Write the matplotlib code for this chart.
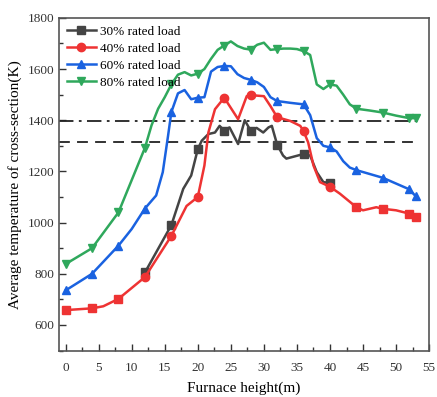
import matplotlib
matplotlib.use("Agg")
import matplotlib.pyplot as plt
from matplotlib.ticker import MultipleLocator

plt.rcParams['font.family'] = ['Liberation Serif', 'DejaVu Serif']

# furnace height (m) and average temperature (K)
x30 = [12, 16, 17.8, 19, 20, 20.6, 21.6, 22.6, 23.3, 24, 24.8, 26.1, 27.1, 28, 28.9, 29.9,
       30.7, 31.2, 32, 32.9, 33.4, 36, 37, 38, 39, 40]
y30 = [805, 990, 1132, 1184, 1287, 1320, 1346, 1352, 1378, 1359, 1372, 1307, 1400, 1359, 1370, 1352,
       1372, 1378, 1305, 1262, 1250, 1268, 1262, 1197, 1158, 1155]

x40 = [0, 4, 5.7, 8, 12, 16, 18.3, 20, 21, 21.6, 22.6, 24, 26.1, 27.4, 28, 30, 31, 32, 34, 35.5,
       36, 36.7, 37.5, 38.5, 40, 41.5, 44, 45, 47, 48, 50, 52, 53]
y40 = [658, 665, 673, 702, 787, 948, 1065, 1100, 1223, 1352, 1443, 1488, 1404, 1494, 1498, 1494, 1455, 1412, 1397, 1378,
       1358, 1313, 1223, 1158, 1140, 1113, 1060, 1048, 1060, 1054, 1048, 1035, 1022]

x60 = [0, 4, 8, 10, 12, 13.7, 14.7, 15.5, 16, 17, 18, 19, 20, 21, 22, 23, 24, 25, 26, 27, 28, 29, 30,
       31, 32, 34, 36, 37, 38, 39, 40, 41, 42, 43, 44, 48, 52, 53]
y60 = [735, 800, 910, 975, 1055, 1106, 1197, 1339, 1432, 1505, 1518, 1482, 1488, 1490, 1590, 1608, 1612, 1611, 1580, 1565, 1558, 1548, 1530,
       1490, 1475, 1468, 1462, 1420, 1330, 1300, 1294, 1278, 1240, 1215, 1205, 1175, 1130, 1102]

x80 = [0, 4, 8, 12, 13, 14, 15, 16, 17, 18, 19, 20, 21, 22, 23, 24, 25, 26, 27, 28, 29, 30, 31, 32,
       33, 34, 35, 36, 37, 38, 39, 40, 41, 42, 43, 44, 46, 48, 50, 52, 53]
y80 = [838, 900, 1040, 1292, 1380, 1445, 1490, 1540, 1578, 1588, 1575, 1582, 1600, 1640, 1675, 1692, 1708, 1690, 1680, 1676, 1695, 1703, 1675, 1678,
       1680, 1680, 1678, 1670, 1655, 1540, 1522, 1540, 1535, 1500, 1462, 1445, 1438, 1430, 1418, 1408, 1408]

marks = [0, 4, 8, 12, 16, 20, 24, 28, 32, 36, 40, 44, 48, 52, 53]
red_squares = [0, 4, 8, 44, 48, 52, 53]

line_dashdot = 1398
line_dashed = 1315


def idx(xs, keep):
    return [i for i, v in enumerate(xs) if v in keep]


fig, ax = plt.subplots(figsize=(4.37, 3.97), dpi=100)
fig.subplots_adjust(left=0.135, right=0.982, top=0.955, bottom=0.117)

ax.plot([-1, 53.5], [line_dashdot] * 2, color='#222222', ls=(0, (8, 3, 1.5, 3)), lw=1.3)
ax.plot([-1, 53.5], [line_dashed] * 2, color='#222222', ls=(0, (6, 4)), lw=1.3)

ax.plot(x30, y30, color='#444444', lw=1.8, marker='s', ms=5.5,
        markevery=idx(x30, marks), label='30% rated load')
ax.plot(x40, y40, color='#ee3333', lw=1.8, marker='o', ms=6,
        markevery=[i for i in idx(x40, marks) if x40[i] not in red_squares], label='40% rated load')
ax.plot([x40[i] for i in idx(x40, red_squares)], [y40[i] for i in idx(x40, red_squares)],
        ls='none', marker='s', ms=6, color='#ee3333')
ax.plot(x60, y60, color='#1a62e0', lw=1.8, marker='^', ms=6,
        markevery=idx(x60, marks), label='60% rated load')
ax.plot(x80, y80, color='#2fa85c', lw=1.8, marker='v', ms=6,
        markevery=idx(x80, marks), label='80% rated load')

ax.set_xlim(-1, 55)
ax.set_ylim(500, 1800)
ax.xaxis.set_major_locator(MultipleLocator(5))
ax.xaxis.set_minor_locator(MultipleLocator(2.5))
ax.yaxis.set_minor_locator(MultipleLocator(100))
ax.set_yticks([600, 800, 1000, 1200, 1400, 1600, 1800])
ax.tick_params(which='both', direction='in', top=False, right=False, labelsize=9.5, colors='#333333')
ax.tick_params(which='major', length=5, width=1)
ax.tick_params(which='minor', length=3, width=1)
ax.tick_params(axis='x', which='major', pad=8)
for s in ax.spines.values():
    s.set_color('#555555')
    s.set_linewidth(1.2)

ax.set_xlabel('Furnace height(m)', fontsize=11, labelpad=6)
ax.set_ylabel('Average temperature of cross-section(K)', fontsize=11)
ax.legend(loc='upper left', frameon=False, fontsize=9.5, handlelength=2.2,
          borderaxespad=0.2, labelspacing=0.35, handletextpad=0.3)

fig.savefig('out.png', dpi=100)
